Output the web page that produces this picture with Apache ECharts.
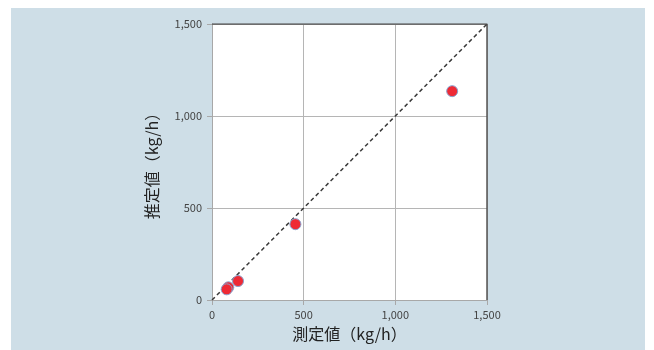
<!DOCTYPE html>
<html><head><meta charset="utf-8">
<script src="https://cdn.jsdelivr.net/npm/echarts@6/dist/echarts.min.js"></script>
<style>html,body{margin:0;padding:0;background:#fff;}#c{position:absolute;left:11px;top:8px;width:634px;height:342px;}</style>
</head><body><div id="c"></div>
<script>
const measured = [1310, 455, 142, 89, 80];
const estimated = [1135, 412, 103, 69, 58];
const lineX = [0, 1500];
const lineY = [0, 1500];
const ticks = [0, 500, 1000, 1500];
const xName = '測定値（kg/h）';
const yName = '推定値（kg/h）';

const chart = echarts.init(document.getElementById('c'));
const font = '"Noto Sans CJK JP", "Noto Sans", sans-serif';
const axisCommon = {
  type: 'value', min: 0, max: 1500, interval: 500,
  axisLine: {show: true, lineStyle: {color: '#a8a8a8', width: 1}},
  axisTick: {show: true, inside: false, length: 5, lineStyle: {color: '#a8a8a8'}},
  splitLine: {show: true, lineStyle: {color: '#b5b5b5', width: 1}},
  axisLabel: {color: '#444', fontSize: 11, fontFamily: font,
    formatter: v => v.toLocaleString('en-US')},
  nameLocation: 'middle',
  nameTextStyle: {color: '#222', fontSize: 16, fontFamily: font}
};
chart.setOption({
  backgroundColor: '#cedee7',
  animation: false,
  grid: {left: 201, top: 16, right: 158, bottom: 50, show: true, backgroundColor: '#fff', borderColor: 'transparent'},
  xAxis: Object.assign({}, axisCommon, {name: xName, nameGap: 26, axisLabel: Object.assign({}, axisCommon.axisLabel, {margin: 9})}),
  yAxis: Object.assign({}, axisCommon, {name: yName, nameGap: 52, axisLabel: Object.assign({}, axisCommon.axisLabel, {margin: 10})}),
  series: [
    {type: 'line', data: lineX.map((x, i) => [x, lineY[i]]), symbol: 'none',
     lineStyle: {color: '#3a3a3a', width: 1.5, type: [4, 3]}, z: 2},
    {type: 'line', data: [[0,1500],[1500,1500],[1500,0]], symbol: 'none',
     lineStyle: {color: '#555', width: 1.5}, z: 1, silent: true},
    {type: 'scatter', data: measured.map((x, i) => [x, estimated[i]]), symbolSize: 11,
     itemStyle: {color: '#ee2a35', borderColor: '#8aa3cf', borderWidth: 1, opacity: 1}, z: 3}
  ]
});
</script></body></html>
